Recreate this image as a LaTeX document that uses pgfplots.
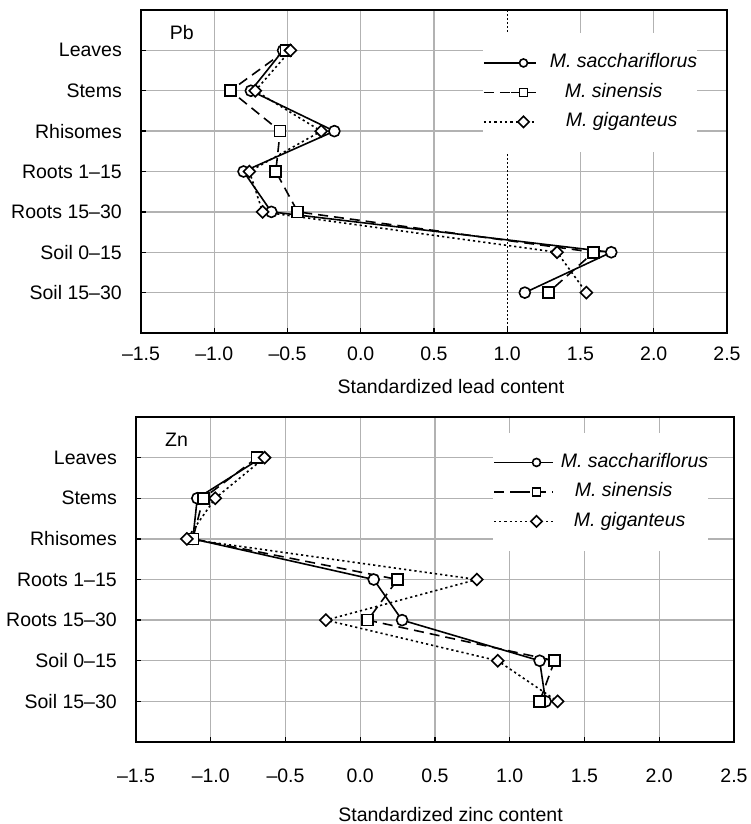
\documentclass[border=0pt]{standalone}
\usepackage{fontspec}
\setmainfont{Liberation Sans}
\usepackage{pgfplots}
\usepackage{pgfplotstable}
\pgfplotsset{compat=1.18}

% standardized contents, rows: 1 Leaves ... 7 Soil 15-30
\pgfplotstableread{
idx  sac    sin    gig
1   -0.53  -0.51  -0.48
2   -0.75  -0.89  -0.72
3   -0.18  -0.55  -0.27
4   -0.80  -0.58  -0.76
5   -0.61  -0.43  -0.67
6    1.71   1.59   1.34
7    1.12   1.28   1.54
}\pbdata

\pgfplotstableread{
idx  sac    sin    gig
1   -0.66  -0.69  -0.64
2   -1.09  -1.05  -0.97
3   -1.12  -1.12  -1.16
4    0.09   0.25   0.78
5    0.28   0.05  -0.23
6    1.20   1.30   0.92
7    1.24   1.20   1.32
}\zndata

\pgfplotsset{
  myaxis/.style={
    scale only axis,
    xmin=-1.5, xmax=2.5, ymin=0, ymax=8, y dir=reverse,
    ytick={1,2,3,4,5,6,7},
    yticklabels={Leaves,Stems,Rhisomes,Roots 1–15,Roots 15–30,Soil 0–15,Soil 15–30},
    xmajorgrids, ymajorgrids,
    grid style={gray!60, line width=1.4bp},
    axis line style={black, line width=1.6bp},
    tick style={black, line width=1.4bp},
    major tick length=5bp,
    tick align=inside,
    xtick pos=bottom, ytick pos=left,
    yticklabel style={inner sep=0pt, xshift=-19bp},
    legend cell align=left,
  },
  sac/.style={black, line width=1.6bp, solid, mark=*, mark size=5.5bp,
    mark options={solid, fill=white, draw=black}},
  sin/.style={black, line width=1.6bp, dash pattern=on 10bp off 6bp, mark=square*, mark size=5.5bp,
    mark options={solid, fill=white, draw=black}},
  gig/.style={black, line width=1.6bp, dash pattern=on 2.2bp off 3bp, mark=square*, mark size=4.2bp,
    mark options={solid, fill=white, draw=black, rotate=45}},
}

\begin{document}
\fontsize{19.5bp}{23bp}\selectfont
\begin{tikzpicture}
\useasboundingbox (0,0) rectangle (751bp,-824bp);

% ---- lead
\begin{axis}[myaxis,
  at={(141bp,-10bp)}, anchor=north west,
  width=586bp, height=323bp,
  xtick={-1.5,-1,-0.5,0,0.5,1.5,2,2.5},
  xticklabels={–1.5,–1.0,–0.5,0.0,0.5,1.5,2.0,2.5},
  extra x ticks={1}, extra x tick labels={1.0},
  extra x tick style={grid=none},
  xticklabel style={inner sep=0pt, yshift=-14bp},
  xlabel={Standardized lead content},
  xlabel style={at={(axis description cs:0.529,0)}, anchor=north, inner sep=0pt, yshift=-46bp},
  legend style={at={(axis description cs:0.5836,0.9288)}, anchor=north west,
    draw=none, fill=white, inner xsep=0bp, inner ysep=20.5bp,
    row sep=11bp, column sep=13bp,
    nodes={inner sep=0bp, text height=14bp, text depth=4.5bp}},
  legend image code/.code={
    \path (0bp,0bp) -- (27bp,0bp);
    \draw[mark repeat=2, mark phase=2, mark size=4bp]
      plot coordinates {(27bp,0bp) (39.5bp,0bp) (52bp,0bp)};},
]
\addplot[black, line width=1.3bp, dash pattern=on 1.5bp off 2.5bp, forget plot]
  coordinates {(1,0) (1,8)};
\addplot[sac] table[x=sac, y=idx] {\pbdata};
\addlegendentry{\textit{M. sacchariflorus}}
\addplot[sin] table[x=sin, y=idx] {\pbdata};
\addlegendentry{\hspace{15bp}\textit{M. sinensis}}
\addplot[gig] table[x=gig, y=idx] {\pbdata};
\addlegendentry{\hspace{16bp}\textit{M. giganteus}}
\node[anchor=base west, inner sep=0pt] at (axis description cs:0.049,0.910) {Pb};
\end{axis}

% ---- zinc
\begin{axis}[myaxis,
  at={(136bp,-417bp)}, anchor=north west,
  width=598bp, height=325bp,
  xtick={-1.5,-1,-0.5,0,0.5,1,1.5,2,2.5},
  xticklabels={–1.5,–1.0,–0.5,0.0,0.5,1.0,1.5,2.0,2.5},
  xticklabel style={inner sep=0pt, yshift=-27bp},
  xlabel={Standardized zinc content},
  xlabel style={at={(axis description cs:0.526,0)}, anchor=north, inner sep=0pt, yshift=-65bp},
  legend style={at={(axis description cs:0.597,0.9508)}, anchor=north west,
    draw=none, fill=white, inner xsep=0bp, inner ysep=20bp,
    row sep=11bp, column sep=7bp,
    nodes={inner sep=0bp, text height=14bp, text depth=4.5bp}},
  legend image code/.code={
    \path (0bp,0bp) -- (26bp,0bp);
    \draw[mark repeat=2, mark phase=2, mark size=4bp]
      plot coordinates {(26bp,0bp) (42.5bp,0bp) (59bp,0bp)};},
]
\addplot[sac] table[x=sac, y=idx] {\zndata};
\addlegendentry{\textit{M. sacchariflorus}}
\addplot[sin] table[x=sin, y=idx] {\zndata};
\addlegendentry{\hspace{14bp}\textit{M. sinensis}}
\addplot[gig] table[x=gig, y=idx] {\zndata};
\addlegendentry{\hspace{13bp}\textit{M. giganteus}}
\node[anchor=base west, inner sep=0pt] at (axis description cs:0.0485,0.908) {Zn};
\end{axis}
\end{tikzpicture}
\end{document}
